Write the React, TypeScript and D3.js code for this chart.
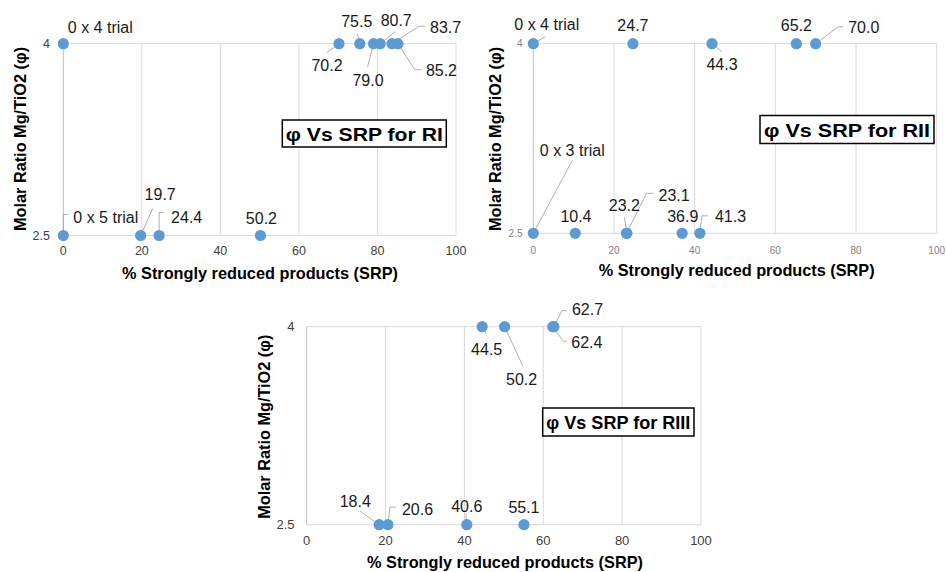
import React from 'react';
import * as d3 from 'd3';

// axis ticks shared by the three panels
const xTicks = [0, 20, 40, 60, 80, 100];
const phiTicks = [2.5, 4];

// RI
const riSRP = [0, 70.2, 75.5, 79.0, 80.7, 83.7, 85.2, 0, 19.7, 24.4, 50.2];
const riPhi = [4, 4, 4, 4, 4, 4, 4, 2.5, 2.5, 2.5, 2.5];
const riLabels = ['0 x 4 trial', '70.2', '75.5', '79.0', '80.7', '83.7', '85.2', '0 x 5 trial', '19.7', '24.4', '50.2'];

// RII
const riiSRP = [0, 24.7, 44.3, 65.2, 70.0, 0, 10.4, 23.2, 23.1, 36.9, 41.3];
const riiPhi = [4, 4, 4, 4, 4, 2.5, 2.5, 2.5, 2.5, 2.5, 2.5];
const riiLabels = ['0 x 4 trial', '24.7', '44.3', '65.2', '70.0', '0 x 3 trial', '10.4', '23.2', '23.1', '36.9', '41.3'];

// RIII
const riiiSRP = [44.5, 50.2, 62.7, 62.4, 18.4, 20.6, 40.6, 55.1];
const riiiPhi = [4, 4, 4, 4, 2.5, 2.5, 2.5, 2.5];
const riiiLabels = ['44.5', '50.2', '62.7', '62.4', '18.4', '20.6', '40.6', '55.1'];

type Pt = [number, number];
type LabelPos = { dx: number; dy: number; anchor: 'start' | 'middle'; leader?: Pt[] };

// label placement (pixel offsets from each point), like the Excel data callouts
const riPlace: LabelPos[] = [
  { dx: 4.5, dy: -16, anchor: 'start' },
  { dx: -12, dy: 22, anchor: 'middle', leader: [[0, 0], [-12, 9]] },
  { dx: -3, dy: -22, anchor: 'middle', leader: [[0, 0], [-2.5, -10]] },
  { dx: -5.5, dy: 37, anchor: 'middle', leader: [[0, 0], [-6, 23]] },
  { dx: 16, dy: -23, anchor: 'middle', leader: [[0, 0], [15, -12]] },
  { dx: 38, dy: -16, anchor: 'start', leader: [[0, 0], [27, -17.5], [33, -17.5]] },
  { dx: 28, dy: 27, anchor: 'start', leader: [[0, 0], [17, 26], [23.5, 26]] },
  { dx: 10, dy: -18, anchor: 'start', leader: [[0, 0], [0, -21], [5, -21]] },
  { dx: 19.5, dy: -41, anchor: 'middle', leader: [[0, 0], [12, -27]] },
  { dx: 12, dy: -18, anchor: 'start', leader: [[0, 0], [0, -23], [5, -23]] },
  { dx: 1, dy: -17, anchor: 'middle' },
];

const riiPlace: LabelPos[] = [
  { dx: 13.5, dy: -19.5, anchor: 'middle', leader: [[0, 0], [12, -7]] },
  { dx: 0, dy: -18, anchor: 'middle' },
  { dx: 10, dy: 20.5, anchor: 'middle', leader: [[0, 0], [10, 8]] },
  { dx: 0, dy: -18, anchor: 'middle' },
  { dx: 32.5, dy: -16.5, anchor: 'start', leader: [[0, 0], [22.5, -17], [27.5, -17]] },
  { dx: 39, dy: -83, anchor: 'middle', leader: [[0, 0], [39, -73]] },
  { dx: 0.7, dy: -17, anchor: 'middle' },
  { dx: -2.5, dy: -27.5, anchor: 'middle', leader: [[0, 0], [-2.5, -16]] },
  { dx: 32, dy: -38, anchor: 'start', leader: [[0, 0], [20, -40], [27, -40]] },
  { dx: 0.6, dy: -17, anchor: 'middle' },
  { dx: 15, dy: -16.5, anchor: 'start', leader: [[0, 0], [2, -17.5], [8, -17.5]] },
];

const riiiPlace: LabelPos[] = [
  { dx: 4.5, dy: 22.5, anchor: 'middle', leader: [[0, 0], [4, 7]] },
  { dx: 17, dy: 52.5, anchor: 'middle', leader: [[0, 0], [18, 39]] },
  { dx: 18, dy: -17.5, anchor: 'start', leader: [[0, 0], [8, -16], [13, -16]] },
  { dx: 18.5, dy: 15.5, anchor: 'start', leader: [[0, 0], [10.5, 14.5], [14, 14.5]] },
  { dx: -24, dy: -23.5, anchor: 'middle', leader: [[0, 0], [-19, -13.5]] },
  { dx: 14, dy: -15.5, anchor: 'start', leader: [[0, 0], [2, -17.5], [8, -17.5]] },
  { dx: 0, dy: -18, anchor: 'middle', leader: [[0, 0], [-1, -11]] },
  { dx: 0, dy: -17, anchor: 'middle' },
];

const FONT = "'Liberation Sans', Arial, sans-serif";
const DOT = '#5B9BD5';
const GRID = '#d9d9d9';

type PanelProps = {
  srp: number[];
  phi: number[];
  labels: string[];
  place: LabelPos[];
  xRange: [number, number];
  yRange: [number, number]; // pixel for 2.5, pixel for 4
  tickSize: number;
  tickColor: string;
  xTickY: number;
  yTickX: number;
  xTitle: Pt;
  yTitle: Pt;
  title: string;
  box: { x: number; y: number; w: number; h: number; textW: number };
};

function Panel(p: PanelProps) {
  const x = d3.scaleLinear().domain([0, 100]).range(p.xRange);
  const y = d3.scaleLinear().domain([2.5, 4]).range(p.yRange);
  const line = d3.line<Pt>();
  const [x0, x1] = p.xRange;
  const yTop = y(4);
  const yBot = y(2.5);

  return (
    <g>
      {/* grid */}
      {xTicks.filter(t => t > 0).map(t => (
        <line key={'gx' + t} x1={x(t)} x2={x(t)} y1={yTop} y2={yBot} stroke={GRID} strokeWidth={1} />
      ))}
      {phiTicks.map(t => (
        <line key={'gy' + t} x1={x0} x2={x1} y1={y(t)} y2={y(t)} stroke={GRID} strokeWidth={1} />
      ))}
      <line x1={x0} x2={x0} y1={yTop} y2={yBot} stroke="#bfbfbf" strokeWidth={1} />

      {/* leader lines */}
      {p.srp.map((v, i) => {
        const pl = p.place[i];
        if (!pl.leader) return null;
        const cx = x(v);
        const cy = y(p.phi[i]);
        const pts = pl.leader.map(([a, b]) => [cx + a, cy + b] as Pt);
        return <path key={'ld' + i} d={line(pts) || ''} fill="none" stroke="#a6a6a6" strokeWidth={0.9} />;
      })}

      {/* points */}
      {p.srp.map((v, i) => (
        <circle key={'pt' + i} cx={x(v)} cy={y(p.phi[i])} r={5.6} fill={DOT} />
      ))}

      {/* data labels */}
      {p.srp.map((v, i) => {
        const pl = p.place[i];
        return (
          <text key={'lb' + i} x={x(v) + pl.dx} y={y(p.phi[i]) + pl.dy} textAnchor={pl.anchor}
            dominantBaseline="central" fontFamily={FONT} fontSize={16} fill="#1a1a1a">
            {p.labels[i]}
          </text>
        );
      })}

      {/* tick labels */}
      {xTicks.map(t => (
        <text key={'tx' + t} x={x(t)} y={p.xTickY} textAnchor="middle" dominantBaseline="central"
          fontFamily={FONT} fontSize={p.tickSize} fill={p.tickColor}>{t}</text>
      ))}
      {phiTicks.map(t => (
        <text key={'ty' + t} x={p.yTickX} y={y(t)} textAnchor="end" dominantBaseline="central"
          fontFamily={FONT} fontSize={p.tickSize} fill={p.tickColor}>{t}</text>
      ))}

      {/* axis titles */}
      <text x={p.xTitle[0]} y={p.xTitle[1]} textAnchor="middle" dominantBaseline="central"
        fontFamily={FONT} fontSize={16.3} fontWeight="bold" fill="#000">% Strongly reduced products (SRP)</text>
      <text transform={`translate(${p.yTitle[0]},${p.yTitle[1]}) rotate(-90)`} textAnchor="middle"
        dominantBaseline="central" fontFamily={FONT} fontSize={16.3} fontWeight="bold" fill="#000">
        Molar Ratio Mg/TiO2 (φ)
      </text>

      {/* title box */}
      <rect x={p.box.x} y={p.box.y} width={p.box.w} height={p.box.h} fill="#fff" stroke="#000" strokeWidth={1.5} />
      <text x={p.box.x + p.box.w / 2} y={p.box.y + p.box.h / 2 + 1} textAnchor="middle" dominantBaseline="central"
        fontFamily={FONT} fontSize={18} fontWeight="bold" fill="#000"
        textLength={p.box.textW} lengthAdjust="spacingAndGlyphs">{p.title}</text>
    </g>
  );
}

export default function App() {
  return (
    <svg width={946} height={572} style={{ position: 'absolute', left: 0, top: 0, background: '#fff' }}>
      <Panel srp={riSRP} phi={riPhi} labels={riLabels} place={riPlace}
        xRange={[63.3, 456]} yRange={[235.5, 43.7]}
        tickSize={12.5} tickColor="#404040" xTickY={251} yTickX={50}
        xTitle={[260, 273]} yTitle={[20, 139]} title="φ Vs SRP for RI"
        box={{ x: 282.3, y: 120, w: 164, h: 27, textW: 157 }} />
      <Panel srp={riiSRP} phi={riiPhi} labels={riiLabels} place={riiPlace}
        xRange={[533.3, 936.7]} yRange={[233.3, 43.7]}
        tickSize={10} tickColor="#7f7f7f" xTickY={250} yTickX={522.5}
        xTitle={[736.7, 270]} yTitle={[495, 139]} title="φ Vs SRP for RII"
        box={{ x: 760, y: 115.5, w: 174, h: 28, textW: 166 }} />
      <Panel srp={riiiSRP} phi={riiiPhi} labels={riiiLabels} place={riiiPlace}
        xRange={[306.7, 701]} yRange={[524.7, 326.7]}
        tickSize={13} tickColor="#404040" xTickY={540.5} yTickX={294.5}
        xTitle={[505, 562]} yTitle={[264, 426.7]} title="φ Vs SRP for RIII"
        box={{ x: 542.7, y: 408, w: 151.3, h: 28, textW: 144 }} />
    </svg>
  );
}
